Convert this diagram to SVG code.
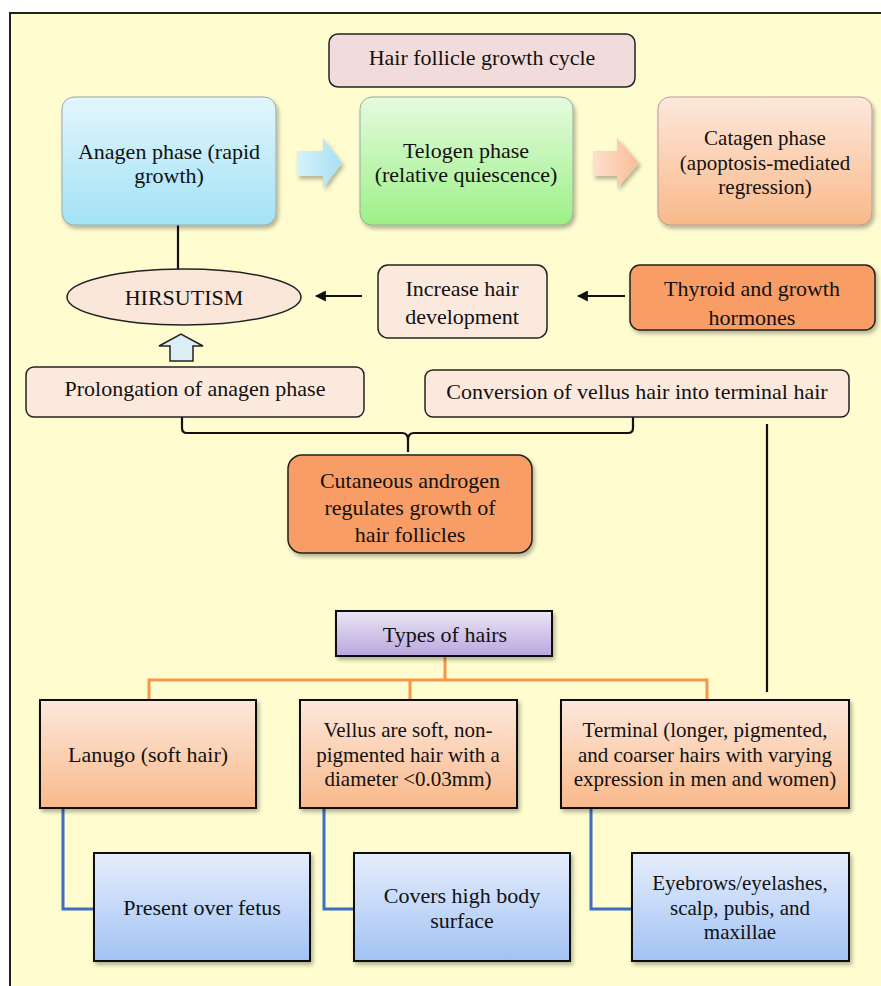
<svg xmlns="http://www.w3.org/2000/svg" width="881" height="986" viewBox="0 0 881 986">
<defs>
<style>
text{font-family:"Liberation Serif","Times New Roman",serif;font-size:22px;fill:#111;text-anchor:middle}
.t3 text{font-size:21px}
.bx{stroke:#222;stroke-width:1.5}
.sq{stroke:#111;stroke-width:2}
.blk{stroke:#111;stroke-width:2.2;fill:none}
.org{stroke:#f79646;stroke-width:3;fill:none}
.blu{stroke:#3a6fc1;stroke-width:3;fill:none}
</style>
<linearGradient id="gBlue" x1="0" y1="0" x2="0" y2="1"><stop offset="0" stop-color="#e2f6fd"/><stop offset="1" stop-color="#a3e2f6"/></linearGradient>
<linearGradient id="gGreen" x1="0" y1="0" x2="0" y2="1"><stop offset="0" stop-color="#e6fadf"/><stop offset="1" stop-color="#9cf187"/></linearGradient>
<linearGradient id="gPeach" x1="0" y1="0" x2="0" y2="1"><stop offset="0" stop-color="#fde8dc"/><stop offset="1" stop-color="#f9b98a"/></linearGradient>
<linearGradient id="gLav" x1="0" y1="0" x2="0" y2="1"><stop offset="0" stop-color="#ebe5f5"/><stop offset="1" stop-color="#b9a7de"/></linearGradient>
<linearGradient id="gSky" x1="0" y1="0" x2="0" y2="1"><stop offset="0" stop-color="#e6eefc"/><stop offset="1" stop-color="#a2c2f4"/></linearGradient>
<linearGradient id="gArB" x1="0" y1="0" x2="1" y2="0"><stop offset="0" stop-color="#d6f1fb"/><stop offset="1" stop-color="#a6e0f4"/></linearGradient>
<linearGradient id="gArO" x1="0" y1="0" x2="1" y2="0"><stop offset="0" stop-color="#fde0cf"/><stop offset="1" stop-color="#f9bd96"/></linearGradient>
<filter id="sh" x="-10%" y="-10%" width="130%" height="140%"><feDropShadow dx="2" dy="3" stdDeviation="2" flood-color="#000" flood-opacity="0.3"/></filter>
<marker id="ah" viewBox="0 0 10 10" refX="9" refY="5" markerWidth="5" markerHeight="5" orient="auto"><path d="M0,0 L10,5 L0,10 z" fill="#111"/></marker>
</defs>
<rect x="0" y="0" width="881" height="986" fill="#fff"/>
<rect x="10" y="13" width="900" height="1000" fill="#fffdd0" stroke="#222" stroke-width="2"/>

<g id="connectors">
<line class="blk" x1="178" y1="225" x2="178" y2="270"/>
<line class="blk" x1="362" y1="296" x2="316" y2="296" marker-end="url(#ah)"/>
<line class="blk" x1="625" y1="296" x2="578" y2="296" marker-end="url(#ah)"/>
<path class="blk" d="M182,417 V428 Q182,433 187,433 H402 Q408,433 408,440 V452 M408,440 Q408,433 414,433 H628 Q633,433 633,428 V417"/>
<line class="blk" x1="767" y1="424" x2="767" y2="692"/>
<path class="org" d="M445,656 V680 M149,700 V680 H707 V700 M410,680 V700"/>
<path class="blu" d="M63,808 V909 H94"/>
<path class="blu" d="M324,808 V909 H354"/>
<path class="blu" d="M591,808 V909 H632"/>
<path id="arrowBlue" d="M297,151 H323 V138 L342,163 L323,188 V176 H297 Z" fill="url(#gArB)" filter="url(#sh)"/>
<path id="arrowOrange" d="M593,151 H617 V138 L639,163 L617,188 V176 H593 Z" fill="url(#gArO)" filter="url(#sh)"/>
<path id="arrowUp" d="M170,361 V346 H159 L181,334 L203,346 H193 V361 Z" fill="#dbeef5" stroke="#222" stroke-width="1.5"/>
</g>

<g id="title"><rect class="bx" x="329" y="34" width="306" height="53" rx="9" fill="#f2dcdb"/><text x="482" y="65">Hair follicle  growth cycle</text></g>

<g id="anagen"><rect x="62" y="97" width="214" height="128" rx="12" fill="url(#gBlue)" stroke="#9aa" stroke-width="1" filter="url(#sh)"/><text x="169" y="159">Anagen phase (rapid</text><text x="169" y="183">growth)</text></g>
<g id="telogen"><rect x="360" y="97" width="213" height="128" rx="12" fill="url(#gGreen)" stroke="#9a9" stroke-width="1" filter="url(#sh)"/><text x="466" y="158">Telogen phase</text><text x="466" y="182">(relative quiescence)</text></g>
<g id="catagen" class="t3"><rect x="658" y="97" width="214" height="128" rx="12" fill="url(#gPeach)" stroke="#b99" stroke-width="1" filter="url(#sh)"/><text x="765" y="145">Catagen phase</text><text x="765" y="169.5">(apoptosis-mediated</text><text x="765" y="194">regression)</text></g>

<g id="hirsutism"><ellipse cx="184" cy="297" rx="117" ry="28" fill="#fbe6da" stroke="#222" stroke-width="1.5"/><text x="184" y="305">HIRSUTISM</text></g>
<g id="increase"><rect class="bx" x="378" y="265" width="169" height="73" rx="10" fill="#fce9de"/><text x="462" y="296">Increase hair</text><text x="462" y="324">development</text></g>
<g id="thyroid"><rect class="bx" x="630" y="265" width="245" height="65" rx="10" fill="#f89d66" filter="url(#sh)"/><text x="752" y="296">Thyroid and growth</text><text x="752" y="325">hormones</text></g>

<g id="prolongation"><rect class="bx" x="26" y="367" width="338" height="50" rx="8" fill="#fce9de"/><text x="195" y="396">Prolongation of anagen phase</text></g>
<g id="conversion"><rect class="bx" x="425" y="370" width="424" height="47" rx="8" fill="#fce9de"/><text x="637" y="399">Conversion of vellus hair into terminal  hair</text></g>

<g id="cutaneous"><rect class="bx" x="288" y="455" width="244" height="98" rx="14" fill="#f89d66" filter="url(#sh)"/><text x="410" y="488">Cutaneous androgen</text><text x="410" y="515">regulates growth of</text><text x="410" y="542">hair follicles</text></g>

<g id="types"><rect class="sq" x="336" y="611" width="216" height="45" fill="url(#gLav)" filter="url(#sh)"/><text x="445" y="642">Types of hairs</text></g>

<g id="lanugo"><rect class="sq" x="40" y="700" width="216" height="108" fill="url(#gPeach)" filter="url(#sh)"/><text x="148" y="762">Lanugo (soft hair)</text></g>
<g id="vellus" class="t3"><rect class="sq" x="300" y="700" width="217" height="108" fill="url(#gPeach)" filter="url(#sh)"/><text x="408" y="737">Vellus are soft, non-</text><text x="408" y="761.5">pigmented hair with a</text><text x="408" y="786">diameter &lt;0.03mm)</text></g>
<g id="terminal" class="t3"><rect class="sq" x="561" y="700" width="288" height="108" fill="url(#gPeach)" filter="url(#sh)"/><text x="705" y="737">Terminal  (longer, pigmented,</text><text x="705" y="761.5">and coarser hairs with varying</text><text x="705" y="786">expression in men and women)</text></g>

<g id="fetus"><rect class="sq" x="94" y="853" width="216" height="108" fill="url(#gSky)" filter="url(#sh)"/><text x="202" y="915">Present over fetus</text></g>
<g id="covers"><rect class="sq" x="354" y="853" width="216" height="108" fill="url(#gSky)" filter="url(#sh)"/><text x="462" y="903">Covers high body</text><text x="462" y="928">surface</text></g>
<g id="eyebrows" class="t3"><rect class="sq" x="632" y="853" width="217" height="108" fill="url(#gSky)" filter="url(#sh)"/><text x="740" y="890">Eyebrows/eyelashes,</text><text x="740" y="914.5">scalp, pubis, and</text><text x="740" y="939">maxillae</text></g>
</svg>
